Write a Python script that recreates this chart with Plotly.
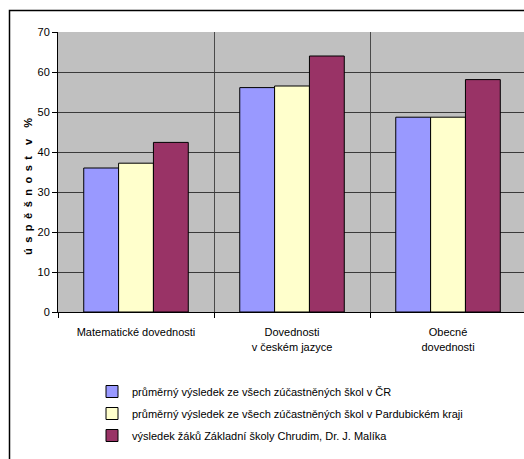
import plotly.graph_objects as go

# Test areas (x-axis categories)
categories = [
    "Matematické dovednosti",
    "Dovednosti<br>v českém jazyce",
    "Obecné<br>dovednosti",
]

# Success rate in percent for each group of pupils
series_names = [
    "průměrný výsledek ze všech zúčastněných škol v ČR",
    "průměrný výsledek ze všech zúčastněných škol v Pardubickém kraji",
    "výsledek žáků Základní školy Chrudim, Dr. J. Malíka",
]
cr_values = [36.0, 56.1, 48.7]
kraj_values = [37.2, 56.5, 48.7]
school_values = [42.4, 64.0, 58.1]
series_values = [cr_values, kraj_values, school_values]
series_colors = ["#9999ff", "#ffffcc", "#993366"]

y_ticks = [0, 10, 20, 30, 40, 50, 60, 70]

FONT = "Liberation Sans, Arial, sans-serif"

fig = go.Figure()
for i, (name, vals, col) in enumerate(zip(series_names, series_values, series_colors)):
    fig.add_trace(go.Bar(
        x=categories,
        y=vals,
        name=name,
        legendgroup=f"g{i}",
        marker=dict(color=col, line=dict(color="#000000", width=1)),
    ))

# spaced-out vertical axis caption
ylabel = "\u2002".join(list("úspěšnost")) + "\u2002\u2002v\u2002\u2002%"

fig.update_layout(
    width=524,
    height=459,
    margin=dict(l=58, r=0, t=32, b=147),
    paper_bgcolor="#ffffff",
    plot_bgcolor="#c0c0c0",
    barmode="group",
    bargap=0.33,
    bargroupgap=0,
    font=dict(family=FONT, size=11, color="#000000"),
    showlegend=True,
    legend=dict(
        x=(92 - 58) / 466,
        xanchor="left",
        y=1 - (377 - 32) / 280,
        yanchor="top",
        bgcolor="rgba(0,0,0,0)",
        font=dict(family=FONT, size=11, color="#000000"),
        traceorder="grouped",
        tracegroupgap=3,
    ),
    xaxis=dict(
        range=[-0.5, 2.487],
        tickson="boundaries",
        showgrid=True,
        gridcolor="#4a4a4a",
        gridwidth=1,
        showline=True,
        linecolor="#000000",
        linewidth=1,
        ticks="outside",
        ticklen=5,
        tickcolor="#000000",
        ticklabelstandoff=10,
        tickfont=dict(family=FONT, size=11, color="#000000"),
        fixedrange=True,
    ),
    yaxis=dict(
        range=[0, 70],
        tickvals=y_ticks,
        showgrid=True,
        gridcolor="#3a3a3a",
        gridwidth=1,
        zeroline=False,
        showline=True,
        linecolor="#000000",
        linewidth=1,
        ticks="outside",
        ticklen=5,
        tickcolor="#000000",
        tickfont=dict(family=FONT, size=11, color="#000000"),
        fixedrange=True,
    ),
    annotations=[
        dict(
            text=f"<b>{ylabel}</b>",
            textangle=-90,
            xref="paper",
            yref="paper",
            x=(28 - 58) / 466,
            y=1 - (187 - 32) / 280,
            xanchor="center",
            yanchor="middle",
            showarrow=False,
            font=dict(family=FONT, size=11, color="#000000"),
        )
    ],
    shapes=[
        # outer chart frame
        dict(
            type="rect",
            xref="paper",
            yref="paper",
            x0=(9.5 - 58) / 466,
            x1=(540 - 58) / 466,
            y0=1 - (480 - 32) / 280,
            y1=1 - (10.5 - 32) / 280,
            line=dict(color="#000000", width=1.5),
            fillcolor="rgba(0,0,0,0)",
            layer="below",
        )
    ],
)

fig.write_html("out.html")
